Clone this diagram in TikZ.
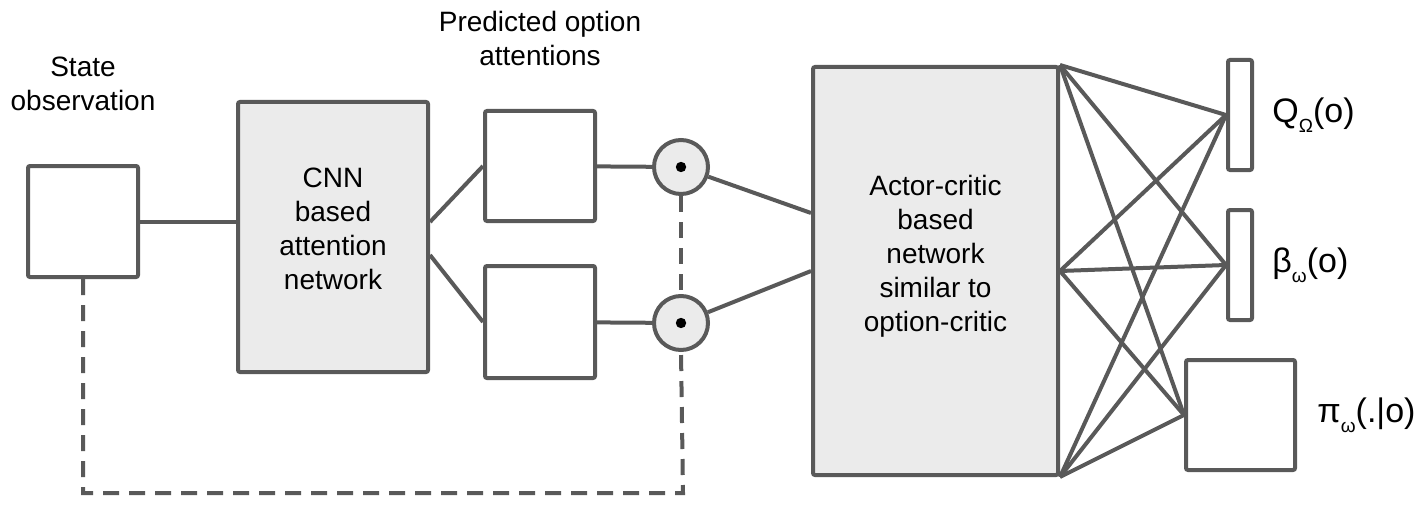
\documentclass[tikz,border=0pt]{standalone}
\usepackage{fontspec}
\setmainfont{Liberation Sans}
\definecolor{linegray}{HTML}{595959}
\definecolor{boxgray}{HTML}{EBEBEB}
\newcommand{\lowsub}[1]{\raisebox{-0.55ex}{\fontsize{9.5pt}{9.5pt}\selectfont #1}}
\tikzset{
  box/.style={draw=linegray, line width=2pt, inner sep=0pt, rounded corners=1pt},
  netbox/.style={box, fill=boxgray},
  link/.style={draw=linegray, line width=2pt},
  feedback/.style={link, dash pattern=on 8pt off 5pt},
  mult/.style={circle, draw=linegray, fill=boxgray, line width=2pt, minimum size=27pt, inner sep=0pt},
  caption/.style={align=center, font=\fontsize{14pt}{17pt}\selectfont},
  outlabel/.style={anchor=west, inner sep=0pt, font=\fontsize{17pt}{20pt}\selectfont}
}
\begin{document}
\begin{tikzpicture}[x=0.5pt,y=-0.5pt]
    \useasboundingbox (0,0) rectangle (1424,508);

    \node[box, minimum width=55pt, minimum height=55.5pt] (state) at (83,221.5) {};
    \node[caption] (statecap) at (83,84) {State\\observation};

    \node[netbox, minimum width=95pt, minimum height=135pt] (cnn) at (333,237) {};
    \node[caption] (cnntxt) at (333,229) {CNN\\based\\attention\\network};

    \node[box, minimum width=55pt, minimum height=55pt] (att1) at (540,166) {};
    \node[box, minimum width=55pt, minimum height=56pt] (att2) at (540,322) {};
    \node[caption] (attcap) at (540,38) {Predicted option\\attentions};

    \node[mult] (dot1) at (681,167) {};
    \node[mult] (dot2) at (681,323) {};
    \fill (dot1.center) circle (2.6pt);
    \fill (dot2.center) circle (2.6pt);

    \node[netbox, minimum width=122.5pt, minimum height=204pt] (actor) at (935.5,271) {};
    \node[caption] (actortxt) at (935.5,256) {Actor-critic\\based\\network\\similar to\\option-critic};

    \node[box, minimum width=12pt, minimum height=55pt] (qout) at (1240,115) {};
    \node[box, minimum width=12pt, minimum height=55pt] (bout) at (1240,265) {};
    \node[box, minimum width=54.5pt, minimum height=55pt] (piout) at (1240.5,415) {};
    \node[outlabel] (qlab) at (1272,115) {Q\lowsub{Ω}(o)};
    \node[outlabel] (blab) at (1272,265) {β\lowsub{ω}(o)};
    \node[outlabel] (pilab) at (1317,415) {π\lowsub{ω}(.|o)};

    \draw[link] (state.east) -- (state.east -| cnn.west);
    \draw[link] ([yshift=7.5pt]cnn.east) -- (att1.west);
    \draw[link] ([yshift=-9pt]cnn.east) -- (att2.west);
    \draw[link] (att1) -- (dot1);
    \draw[link] (att2) -- (dot2);
    \draw[link] (dot1) -- ([yshift=29pt]actor.west);
    \draw[link] (dot2) -- (actor.west);

    \foreach \src in {north east, east, south east}{
      \foreach \dst in {qout, bout, piout}{
        \draw[link] (actor.\src) -- (\dst.west);
      }
    }

    \coordinate (ret) at (683,493);
    \draw[feedback] (state.south) |- (ret) -- (dot2.south);
    \draw[feedback] (dot1.south) -- (dot2.north);
\end{tikzpicture}
\end{document}
